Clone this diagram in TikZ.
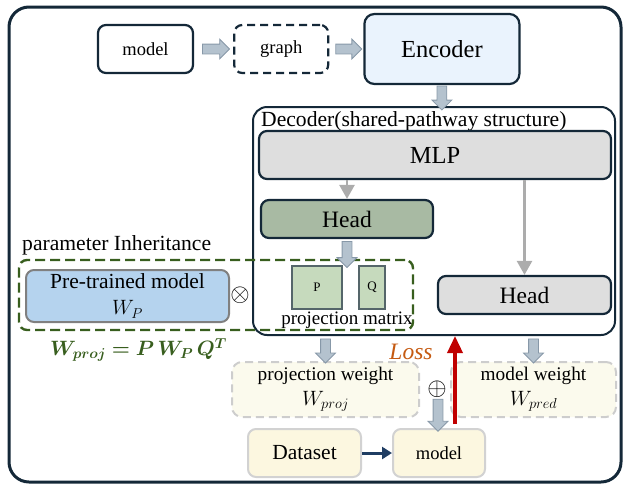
\documentclass[tikz,border=0pt]{standalone}
\usepackage{amsmath,bm}
\usepackage{fontspec}
\setmainfont{Liberation Serif}
\usepackage{xcolor}
\definecolor{navy}{RGB}{20,40,56}
\definecolor{arrfill}{RGB}{180,194,206}
\definecolor{arrline}{RGB}{135,152,168}
\definecolor{encfill}{RGB}{234,243,253}
\definecolor{lgray}{RGB}{222,222,222}
\definecolor{sage}{RGB}{168,186,163}
\definecolor{pqfill}{RGB}{198,218,189}
\definecolor{pqline}{RGB}{85,102,106}
\definecolor{inhgreen}{RGB}{56,94,30}
\definecolor{prefill}{RGB}{181,211,238}
\definecolor{preline}{RGB}{128,128,128}
\definecolor{cream}{RGB}{251,250,237}
\definecolor{dashgray}{RGB}{205,205,205}
\definecolor{dsfill}{RGB}{252,247,224}
\definecolor{dsline}{RGB}{210,210,210}
\definecolor{lossred}{RGB}{192,0,0}
\definecolor{lossorange}{RGB}{197,90,17}
\definecolor{thingray}{RGB}{172,172,172}
\definecolor{dsarrow}{RGB}{31,61,99}
\usepackage{tikz}
\usetikzlibrary{shapes.arrows,arrows.meta,positioning,calc}
\newcommand\fsz[1]{\fontsize{#1}{#1}\selectfont}
\tikzset{
  frame/.style={draw=navy,line width=3pt,rounded corners=20pt},
  plainbox/.style={rectangle,rounded corners=8pt,draw=navy,line width=2.2pt,fill=white,
    align=center,inner sep=0pt},
  dashbox/.style={plainbox,dash pattern=on 8pt off 5pt},
  encbox/.style={plainbox,fill=encfill,rounded corners=10pt},
  decbox/.style={rectangle,rounded corners=14pt,draw=navy,line width=2pt,inner sep=0pt},
  graybox/.style={plainbox,fill=lgray},
  greenbox/.style={plainbox,fill=sage},
  pqbox/.style={rectangle,draw=pqline,line width=2pt,fill=pqfill,inner sep=0pt},
  inhbox/.style={rectangle,rounded corners=8pt,draw=inhgreen,line width=2.4pt,
    dash pattern=on 10pt off 5pt,inner sep=0pt},
  prebox/.style={rectangle,rounded corners=8pt,draw=preline,line width=2pt,fill=prefill,
    align=center,inner sep=0pt},
  weightbox/.style={rectangle,rounded corners=10pt,draw=dashgray,line width=2pt,fill=cream,
    dash pattern=on 8pt off 5pt,align=center,inner sep=0pt},
  creambox/.style={rectangle,rounded corners=8pt,draw=dsline,line width=2pt,fill=dsfill,
    align=center,inner sep=0pt},
  lbl/.style={inner sep=0pt},
  blockarr/.style={single arrow,draw=arrline,fill=arrfill,line width=0.8pt,inner sep=4.5pt,
    single arrow head extend=5pt,single arrow head indent=0pt},
  grayarr/.style={-{Triangle[width=15pt,length=14pt]},line width=2.5pt,draw=thingray},
  lossarr/.style={-{Triangle[width=15pt,length=17pt]},line width=3.5pt,draw=lossred},
  dsarr/.style={-{Triangle[width=12pt,length=10pt]},line width=3pt,draw=dsarrow},
}
\begin{document}
\begin{tikzpicture}[x=1pt,y=-1pt]
  \useasboundingbox (0,0) rectangle (623,485);
  \draw[frame] (9,7) rectangle (621,482);
  % top row
  \node (mdl) [plainbox,minimum width=95pt,minimum height=48pt,font=\fsz{18.5}] at (145.5,49) {model};
  \node (grf) [dashbox,minimum width=94pt,minimum height=48pt,font=\fsz{18.5},right=39pt of mdl] {graph};
  \node (enc) [encbox,minimum width=155pt,minimum height=70pt,font=\fsz{24.5},right=34pt of grf] {Encoder};
  % decoder
  \node (dec) [decbox,minimum width=362pt,minimum height=228pt] at (434,221) {};
  \node (declbl) [lbl,font=\fsz{21.6},anchor=west] at (261,121) {Decoder(shared-pathway structure)};
  \node (mlp) [graybox,minimum width=352pt,minimum height=48pt,font=\fsz{24.5}] at (435,155) {MLP};
  \node (hd1) [greenbox,minimum width=172pt,minimum height=38pt,font=\fsz{23.5}] at (347,219) {Head};
  \node (hd2) [graybox,minimum width=173pt,minimum height=38pt,font=\fsz{23.5}] at (524.5,295) {Head};
  \node (pm) [pqbox,minimum width=50pt,minimum height=43pt,font=\fsz{13}] at (317,287.5) {P};
  \node (qm) [pqbox,minimum width=26pt,minimum height=43pt,font=\fsz{13},right=15pt of pm] {Q};
  \node (pmlbl) [lbl,font=\fsz{19}] at (347,320) {projection matrix};
  % parameter inheritance
  \node (pinh) [inhbox,minimum width=394pt,minimum height=70pt] at (216,295) {};
  \node (pinhlbl) [lbl,font=\fsz{21.6},anchor=west] at (22,245) {parameter Inheritance};
  \node (pre) [prebox,minimum width=203pt,minimum height=52pt,font=\fontsize{21.5}{26}\selectfont] at (127.5,296)
    {Pre-trained model\\$W_P$};
  \node (otm) [lbl,font=\fsz{23}] at (240,295) {$\otimes$};
  \node (fml) [lbl,font=\fsz{20},text=inhgreen] at (138.5,350) {$\bm{W_{proj} = P\,W_P\,Q^T}$};
  % weights and training
  \node (prw) [weightbox,minimum width=187pt,minimum height=55pt,font=\fontsize{19.3}{25}\selectfont] at (325.5,389.5)
    {projection weight\\$W_{proj}$};
  \node (mdw) [weightbox,minimum width=165pt,minimum height=55pt,font=\fontsize{19.3}{25}\selectfont] at (533.5,389.5)
    {model weight\\$W_{pred}$};
  \node (opl) [lbl,font=\fsz{23}] at (437,389) {$\oplus$};
  \node (dset) [creambox,minimum width=113pt,minimum height=48pt,font=\fsz{21.5}] at (304.5,453) {Dataset};
  \node (mdl2) [creambox,minimum width=92pt,minimum height=48pt,font=\fsz{18.5},right=30pt of dset] {model};
  \node (loss) [lbl,font=\fsz{23.5}\itshape,text=lossorange] at (411,352) {Loss};
  % block arrows
  \node (ba1) [blockarr,minimum height=27pt] at ($(mdl.east)!0.5!(grf.west)$) {};
  \node (ba2) [blockarr,minimum height=26pt] at ($(grf.east)!0.5!(enc.west)$) {};
  \node (ba3) [blockarr,minimum height=24pt,rotate=-90] at ($(enc.south)!0.5!(enc.south |- dec.north)$) {};
  \node (ba4) [blockarr,minimum height=26pt,rotate=-90] at ($(hd1.south)!0.5!(hd1.south |- pm.north)$) {};
  \node (ba5) [blockarr,minimum height=24pt,rotate=-90] at ($(prw.north)!0.5!(prw.north |- dec.south)$) {};
  \node (ba6) [blockarr,minimum height=24pt,rotate=-90] at ($(mdw.north)!0.5!(mdw.north |- dec.south)$) {};
  \node (ba7) [blockarr,minimum height=32pt,rotate=-90] at ($(opl.south)!0.5!(mdl2.north)$) {};
  % connectors
  \draw[grayarr] (mlp.south -| hd1.north) -- (hd1.north);
  \draw[grayarr] (mlp.south -| hd2.north) -- (hd2.north);
  \draw[dsarr] (dset) -- (mdl2);
  \coordinate (lst) at ($(mdl2.north)+(16,-4)$);
  \draw[lossarr] (lst) -- (lst |- dec.south);
\end{tikzpicture}
\end{document}
